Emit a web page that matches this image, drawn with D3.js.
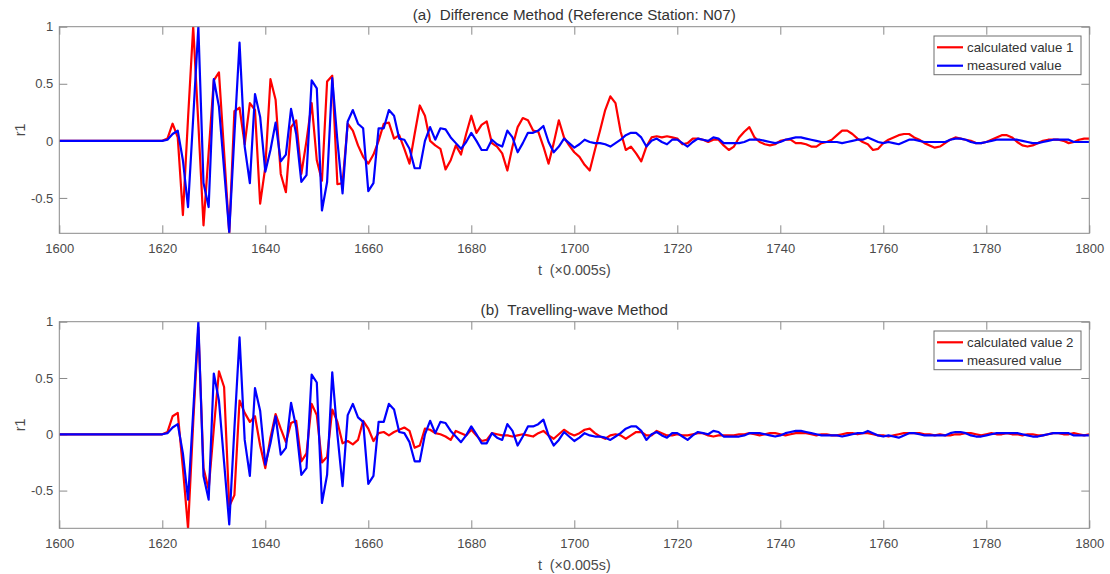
<!DOCTYPE html>
<html>
<head>
<meta charset="utf-8">
<script src="https://cdn.jsdelivr.net/npm/d3@7"></script>
<style>
  html, body { margin: 0; padding: 0; background: #fff; }
  svg { display: block; font-family: "Liberation Sans", Arial, Helvetica, sans-serif; }
  .pre { white-space: pre; }
</style>
</head>
<body>
<svg id="chart" width="1110" height="574"></svg>
<script>
// ---------------- data (t from 1600 to 1800, step 1) ----------------
const tStart = 1600;
const xTicks = [1600, 1620, 1640, 1660, 1680, 1700, 1720, 1740, 1760, 1780, 1800];
const yTicks = [-0.5, 0, 0.5, 1];
const yTickLabels = ["-0.5", "0", "0.5", "1"];

const calculated1 = [
  0,0,0,0,0,0,0,0,0,0,
  0,0,0,0,0,0,0,0,0,0,
  0, 0.02, 0.15, 0.03, -0.65, 0.2, 1.0, 0.15, -0.74, -0.1,
  0.53, 0.6, -0.1, -0.81, 0.26, 0.29, -0.03, 0.33, 0.27, -0.55,
  -0.23, 0.54, 0.36, -0.29, -0.45, 0.12, 0.18, -0.29, 0, 0.33,
  -0.17, -0.35, 0.52, 0.57, -0.38, -0.37, 0.15, 0.09, -0.04, -0.14,
  -0.2, -0.12, 0, 0.15, 0.16, 0.02, 0.05, -0.07, -0.2, 0.06,
  0.31, 0.22, 0, -0.04, -0.07, -0.25, -0.17, -0.04, -0.12, 0.06,
  0.22, 0.07, 0.14, 0.17, -0.02, -0.05, -0.11, -0.26, -0.05, 0.12,
  0.2, 0.18, 0.09, 0.08, -0.05, -0.2, -0.02, 0.18, 0.03, -0.04,
  -0.1, -0.14, -0.21, -0.26, -0.08, 0.09, 0.27, 0.39, 0.33, 0.08,
  -0.08, -0.05, -0.11, -0.18, -0.05, 0.03, 0.04, 0.03, 0.04, 0.03,
  0.02, -0.03, -0.02, 0.02, 0.02, 0.01, -0.01, 0.01, 0.01, -0.04,
  -0.08, -0.05, 0.03, 0.08, 0.12, 0.03, -0.01, -0.03, -0.04, -0.03,
  0, 0.01, 0.01, -0.02, -0.02, -0.03, -0.05, -0.05, -0.02, -0.01,
  0.01, 0.05, 0.09, 0.09, 0.06, 0.02, -0.01, -0.03, -0.08, -0.07,
  -0.02, 0.01, 0.03, 0.05, 0.06, 0.06, 0.03, 0.01, -0.02, -0.04,
  -0.06, -0.05, -0.02, 0.01, 0.03, 0.02, 0.01, 0, -0.02, -0.02,
  -0.01, 0.01, 0.03, 0.05, 0.05, 0.03, -0.01, -0.04, -0.05, -0.04,
  -0.02, 0, 0.01, 0.01, 0.01, 0, -0.02, -0.01, 0.01, 0.02,
  0.02
];

const measured = [
  0,0,0,0,0,0,0,0,0,0,
  0,0,0,0,0,0,0,0,0,0,
  0, 0.01, 0.06, 0.09, -0.17, -0.58, 0.2, 1.0, -0.37, -0.58,
  0.54, 0.3, -0.25, -0.8, 0.05, 0.86, -0.05, -0.37, 0.41, 0.21,
  -0.27, -0.08, 0.16, -0.18, -0.12, 0.28, 0.06, -0.36, -0.3, 0.53,
  0.46, -0.61, -0.36, 0.55, 0, -0.46, 0.17, 0.27, 0.15, 0.11,
  -0.44, -0.37, 0.11, 0.11, 0.27, 0.22, 0.02, 0.01, -0.07, -0.24,
  -0.24, 0, 0.12, 0.01, 0.11, 0.1, 0.03, -0.02, -0.07, -0.01,
  0.07, 0, -0.08, -0.08, 0.01, -0.03, -0.05, 0.09, 0.03, -0.1,
  -0.02, 0.07, 0.07, 0.09, 0.13, -0.01, -0.1, -0.05, 0.02, -0.02,
  -0.06, -0.03, 0.01, -0.01, -0.02, -0.02, -0.03, -0.05, -0.02, 0.01,
  0.05, 0.07, 0.07, 0.03, -0.05, 0, 0.02, -0.01, -0.03, 0.01,
  0.01, -0.02, -0.05, -0.01, 0.02, 0.01, 0, 0.03, 0.02, -0.02,
  -0.02, -0.02, -0.02, -0.01, 0.01, 0.01, 0.01, 0, -0.01, -0.02,
  -0.01, 0.01, 0.02, 0.03, 0.03, 0.02, 0.01, 0, -0.01, -0.01,
  -0.01, -0.01, -0.02, -0.01, 0, 0.01, 0.01, 0.03, 0.01, -0.01,
  -0.02, -0.01, -0.02, -0.03, -0.01, 0.01, 0.01, 0, -0.01, -0.01,
  -0.01, -0.01, -0.01, 0.01, 0.02, 0.02, 0.01, -0.01, -0.02, -0.02,
  -0.01, 0, 0.01, 0.01, 0.01, 0.01, 0.01, 0, -0.01, -0.02,
  -0.02, -0.01, 0, 0.01, 0.01, 0.01, 0.01, -0.01, -0.01, -0.01,
  -0.01
];

const calculated2 = [
  0,0,0,0,0,0,0,0,0,0,
  0,0,0,0,0,0,0,0,0,0,
  0, 0.02, 0.16, 0.19, -0.3, -0.835, 0.1, 0.95, -0.3, -0.49,
  0.05, 0.56, 0.42, -0.64, -0.54, 0.3, 0.19, 0.11, 0.16, -0.1,
  -0.3, -0.03, 0.18, 0.05, -0.07, 0.1, 0.12, -0.24, -0.17, 0.27,
  0.17, -0.25, -0.2, 0.22, 0.11, -0.08, -0.06, -0.09, -0.05, 0.12,
  0.05, -0.06, 0.01, 0.02, -0.01, 0.02, 0.04, 0.06, 0.03, -0.12,
  -0.1, 0.05, 0.04, 0.01, 0, -0.02, -0.05, 0.03, 0.01, -0.01,
  0.04, -0.01, -0.06, -0.05, 0.01, 0, -0.01, -0.01, -0.02, -0.01,
  0, -0.01, -0.02, 0.01, 0.03, -0.01, -0.04, 0, 0.04, 0.01,
  -0.01, 0.01, 0.04, 0.05, 0.01, -0.02, -0.04, -0.01, 0, -0.01,
  -0.04, -0.01, 0.02, 0.02, -0.01, -0.01, 0.03, 0.01, -0.01, -0.01,
  0, -0.01, -0.01, 0, 0.01, 0.01, -0.01, -0.02, -0.01, -0.01,
  -0.01, -0.01, 0, 0, 0.01, 0, -0.01, 0, 0.01, 0.01,
  0, -0.01, 0, 0.01, 0.01, 0.01, 0, -0.01, 0, 0,
  -0.01, -0.01, 0, 0.01, 0.01, 0, 0.01, 0.01, 0, -0.01,
  -0.01, -0.02, -0.01, 0, 0.01, 0.01, 0.01, 0.01, 0, 0,
  -0.01, 0, -0.01, -0.01, 0, 0, 0.01, 0.01, 0, -0.01,
  0, 0.01, 0, 0, 0.01, 0, 0, -0.01, 0, 0,
  -0.01, -0.01, 0, 0.01, 0.01, 0, 0, 0.01, 0, -0.01,
  0
];

const panels = [
  { title: "(a)  Difference Method (Reference Station: N07)", calc: calculated1,
    calcLabel: "calculated value 1", yMin: -0.81, top: 26.7 },
  { title: "(b)  Travelling-wave Method", calc: calculated2,
    calcLabel: "calculated value 2", yMin: -0.835, top: 321.7 }
];

// ---------------- drawing ----------------
const svg = d3.select("#chart");
const left = 59.3, right = 1089.3, plotH = 206.6;
const RED = "#ff0000", BLUE = "#0000ff";
const boxColor = "#8a8a8a", textColor = "#4a4a4a";

panels.forEach((p, i) => {
  const x = d3.scaleLinear().domain([1600, 1800]).range([left, right]);
  const y = d3.scaleLinear().domain([p.yMin, 1]).range([p.top + plotH, p.top]);
  const g = svg.append("g");

  const clipId = "clip" + i;
  svg.append("clipPath").attr("id", clipId).append("rect")
    .attr("x", left).attr("y", p.top).attr("width", right - left).attr("height", plotH);

  // axes
  const tl = 8;
  const axB = g.append("g").attr("transform", `translate(0,${p.top + plotH})`)
    .call(d3.axisBottom(x).tickValues(xTicks).tickFormat(d3.format("d")).tickSizeInner(-tl).tickSizeOuter(0).tickPadding(10));
  const axT = g.append("g").attr("transform", `translate(0,${p.top})`)
    .call(d3.axisTop(x).tickValues(xTicks).tickFormat("").tickSizeInner(-tl).tickSizeOuter(0));
  const axL = g.append("g").attr("transform", `translate(${left},0)`)
    .call(d3.axisLeft(y).tickValues(yTicks).tickFormat((d, k) => yTickLabels[k]).tickSizeInner(-tl).tickSizeOuter(0).tickPadding(6));
  const axR = g.append("g").attr("transform", `translate(${right},0)`)
    .call(d3.axisRight(y).tickValues(yTicks).tickFormat("").tickSizeInner(-tl).tickSizeOuter(0));
  [axB, axT, axL, axR].forEach(a => {
    a.select(".domain").remove();
    a.selectAll(".tick line").attr("stroke", boxColor).attr("stroke-width", 1);
    a.selectAll(".tick text").attr("fill", textColor).style("font-size", "13px")
      .style("font-family", '"Liberation Sans", Arial, sans-serif');
  });

  // lines
  const line = d3.line().x((d, k) => x(tStart + k)).y(d => y(d));
  const lg = g.append("g").attr("clip-path", `url(#${clipId})`);
  lg.append("path").datum(p.calc).attr("d", line)
    .attr("fill", "none").attr("stroke", RED).attr("stroke-width", 2.2).attr("stroke-linejoin", "round");
  lg.append("path").datum(measured).attr("d", line)
    .attr("fill", "none").attr("stroke", BLUE).attr("stroke-width", 2.2).attr("stroke-linejoin", "round");

  // box
  g.append("rect").attr("x", left).attr("y", p.top).attr("width", right - left).attr("height", plotH)
    .attr("fill", "none").attr("stroke", boxColor).attr("stroke-width", 1);

  // title
  g.append("text").attr("class", "pre").attr("x", (left + right) / 2).attr("y", p.top - 6.5)
    .attr("text-anchor", "middle").attr("fill", "#333").style("font-size", "15.2px").text(p.title);

  // x label
  g.append("text").attr("class", "pre").attr("x", (left + right) / 2).attr("y", p.top + plotH + 42)
    .attr("text-anchor", "middle").attr("fill", textColor).style("font-size", "14.3px").text("t  (×0.005s)");

  // y label
  g.append("text").attr("transform", `translate(25,${p.top + plotH / 2}) rotate(-90)`)
    .attr("text-anchor", "middle").attr("fill", textColor).style("font-size", "14.3px").text("r1");

  // legend
  const lx = 934, ly = p.top + 9.3, lw = 147, lh = 38.7;
  const leg = g.append("g");
  leg.append("rect").attr("x", lx).attr("y", ly).attr("width", lw).attr("height", lh)
    .attr("fill", "#fff").attr("stroke", "#6e6e6e").attr("stroke-width", 1);
  const items = [{ label: p.calcLabel, color: RED }, { label: "measured value", color: BLUE }];
  items.forEach((it, k) => {
    const cy = ly + 11.3 + k * 18.4;
    leg.append("line").attr("x1", lx + 3).attr("x2", lx + 29).attr("y1", cy).attr("y2", cy)
      .attr("stroke", it.color).attr("stroke-width", 2.2);
    leg.append("text").attr("x", lx + 33).attr("y", cy + 4.5).attr("fill", "#333")
      .style("font-size", "13.3px").text(it.label);
  });
});
</script>
</body>
</html>
